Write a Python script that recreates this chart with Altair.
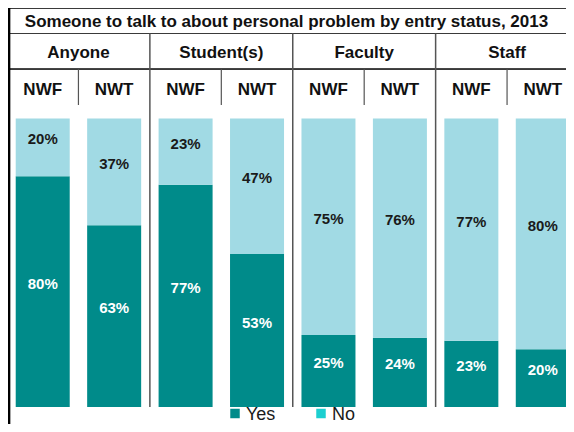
import altair as alt
import pandas as pd

# ---- data ----
groups = ["Anyone", "Student(s)", "Faculty", "Staff"]
subs = ["NWF", "NWT"]
yes_vals = [80, 63, 77, 53, 25, 24, 23, 20]
no_vals = [20, 37, 23, 47, 75, 76, 77, 80]
series = ["Yes", "No"]
title_text = "Someone to talk to about personal problem by entry status, 2013"

bar_colors = ["#008B8A", "#A1DAE4"]
legend_colors = ["#008B8A", "#1CCFD0"]
label_colors = ["#FFFFFF", "#1A1A1A"]
FONT = "Liberation Sans, Arial, sans-serif"

rows = []
k = 0
for g in groups:
    for s in subs:
        y, n = yes_vals[k], no_vals[k]
        rows.append(dict(grp=g, sub=s, resp="Yes", lo=0, hi=y, mid=y / 2, lab=f"{y}%"))
        rows.append(dict(grp=g, sub=s, resp="No", lo=y, hi=y + n, mid=y + n / 2, lab=f"{n}%"))
        k += 1
df = pd.DataFrame(rows)
bars_df = pd.DataFrame([dict(grp=g, sub=s) for g in groups for s in subs])
grp_df = pd.DataFrame({"grp": groups})

W, H = 558, 416
xscale = alt.Scale(domain=groups, range=[-1, 570.5], paddingInner=0, paddingOuter=0)
xoff = alt.XOffset("sub:N", scale=alt.Scale(domain=subs, paddingInner=0.244, paddingOuter=0.122))
yscale = alt.Scale(domain=[0, 100], range=[399, 110.5], nice=False, zero=False)
X = alt.X("grp:N", scale=xscale, axis=None)

base = alt.Chart(df)

bars = base.mark_bar().encode(
    x=X, xOffset=xoff,
    y=alt.Y("lo:Q", scale=yscale, axis=None), y2="hi:Q",
    color=alt.Color("resp:N", scale=alt.Scale(domain=series, range=bar_colors), legend=None),
)

labels = base.mark_text(font=FONT, fontSize=15, fontWeight="bold", baseline="middle", dy=-8).encode(
    x=X, xOffset=xoff,
    y=alt.Y("mid:Q", scale=yscale, axis=None),
    text="lab:N",
    color=alt.Color("resp:N", scale=alt.Scale(domain=series, range=label_colors), legend=None),
)

# table decoration
line_col = "#3A3A3A"
hlines = [
    alt.Chart(grp_df).mark_rule(color=line_col, strokeWidth=1.2).encode(
        x=alt.value(0), x2=alt.value(W), y=alt.value(yy))
    for yy in [0.5, 25.5, 61.2]
]
left_border = alt.Chart(grp_df).mark_rule(color="#000000", strokeWidth=2.2).encode(
    x=alt.value(1), y=alt.value(0), y2=alt.value(H))
grp_div = alt.Chart(pd.DataFrame({"grp": groups[1:]})).mark_rule(color="#555555", strokeWidth=1.5).encode(
    x=alt.X("grp:N", scale=xscale, axis=None, bandPosition=0),
    y=alt.value(25.5), y2=alt.value(399))
sub_div = alt.Chart(grp_df).mark_rule(color="#555555", strokeWidth=1.2).encode(
    x=alt.X("grp:N", scale=xscale, axis=None, bandPosition=0.5),
    y=alt.value(61.2), y2=alt.value(97))

title = alt.Chart(grp_df.head(1)).mark_text(
    text=title_text, font=FONT, fontSize=17, fontWeight="bold", color="#111111",
    align="center", baseline="alphabetic").encode(x=alt.value(278.5), y=alt.value(19))
grp_text = alt.Chart(grp_df).mark_text(
    font=FONT, fontSize=17, fontWeight="bold", color="#111111", baseline="alphabetic").encode(
    x=X, y=alt.value(49.5), text="grp:N")
sub_text = alt.Chart(bars_df).mark_text(
    font=FONT, fontSize=17, fontWeight="bold", color="#111111", baseline="alphabetic").encode(
    x=X, xOffset=xoff, y=alt.value(87), text="sub:N")

# legend (manual, swatch colours differ from bars as in the reference)
leg_layers = []
for i, (name, col) in enumerate(zip(series, legend_colors)):
    lx = 227 + i * 86
    leg_layers.append(alt.Chart(grp_df.head(1)).mark_square(size=90, color=col, opacity=1).encode(
        x=alt.value(lx), y=alt.value(405.5)))
    leg_layers.append(alt.Chart(grp_df.head(1)).mark_text(
        text=name, font=FONT, fontSize=18, color="#1A1A1A", align="left", baseline="alphabetic").encode(
        x=alt.value(lx + 11), y=alt.value(412)))

chart = alt.layer(
    bars, labels, *hlines, left_border, grp_div, sub_div, title, grp_text, sub_text, *leg_layers
).properties(
    width=W, height=H, autosize=alt.AutoSizeParams(type="none"), padding=0
).configure_view(stroke=None).resolve_scale(color="independent")

chart.save("out.html", embed_options={"renderer": "svg", "actions": False})
